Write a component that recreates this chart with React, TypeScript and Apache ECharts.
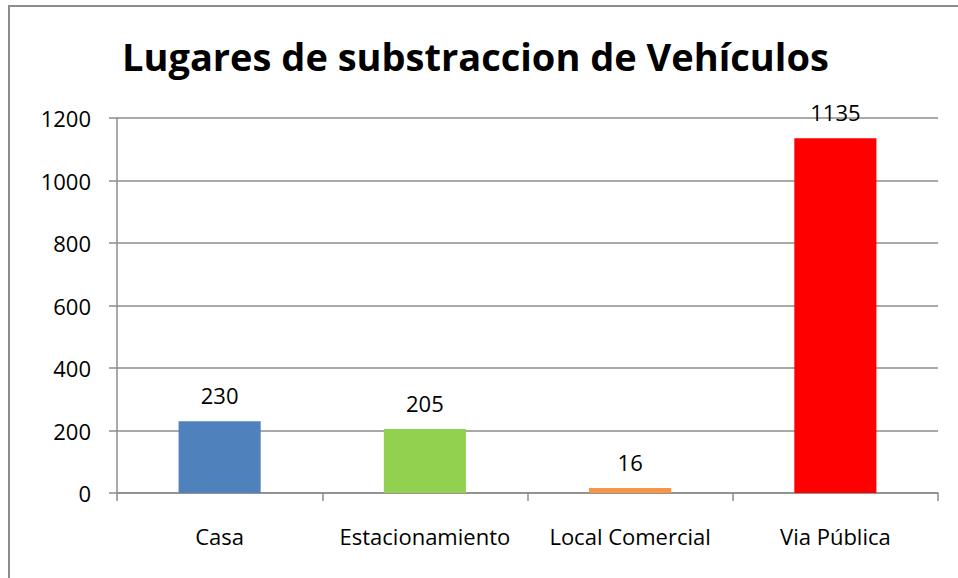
import React, { useEffect, useRef } from "react";
import * as echarts from "echarts";

const categories = ["Casa", "Estacionamiento", "Local Comercial", "Via Pública"];
const values = [230, 205, 16, 1135];
const barColors = ["#4F81BD", "#92D050", "#F79646", "#FF0000"];
const titleText = "Lugares de substraccion de Vehículos";

export default function App() {
  const ref = useRef<HTMLDivElement>(null);
  useEffect(() => {
    if (!ref.current) return;
    const chart = echarts.init(ref.current, null, { renderer: "svg" });
    const font = "'Open Sans', 'Noto Sans', sans-serif";
    chart.setOption({
      animation: false,
      backgroundColor: "#ffffff",
      textStyle: { fontFamily: font },
      title: {
        text: titleText,
        left: 117,
        top: 32,
        textStyle: { fontSize: 38, fontWeight: "bold", color: "#000", fontFamily: font },
      },
      graphic: [
        {
          type: "rect",
          shape: { x: 9, y: 6, width: 1000, height: 700 },
          style: { fill: "none", stroke: "#8c8c8c", lineWidth: 2 },
          silent: true,
        },
      ],
      grid: { left: 117, right: 20, top: 118, bottom: 85, containLabel: false },
      xAxis: {
        type: "category",
        data: categories,
        axisLine: { lineStyle: { color: "#8c8c8c", width: 1.5 } },
        axisTick: { show: true, length: 8, alignWithLabel: false, lineStyle: { color: "#8c8c8c", width: 1.5 } },
        axisLabel: { color: "#000", fontSize: 22, margin: 32, interval: 0, hideOverlap: false, fontFamily: font },
      },
      yAxis: {
        type: "value",
        min: 0,
        max: 1200,
        interval: 200,
        axisLine: { show: true, lineStyle: { color: "#8c8c8c", width: 1.5 } },
        axisTick: { show: true, length: 8, lineStyle: { color: "#8c8c8c", width: 1.5 } },
        axisLabel: {
          color: "#000",
          fontSize: 22,
          margin: 26,
          fontFamily: font,
          formatter: (v: number) => String(v),
        },
        splitLine: { lineStyle: { color: "#8c8c8c", width: 1.5 } },
      },
      series: [
        {
          type: "bar",
          barWidth: "40%",
          data: values.map((v, i) => ({ value: v, itemStyle: { color: barColors[i] } })),
          label: {
            show: true,
            position: "top",
            distance: 15,
            color: "#000",
            fontSize: 22,
            fontFamily: font,
          },
        },
      ],
    });
    return () => chart.dispose();
  }, []);
  return (
    <div
      ref={ref}
      style={{ position: "absolute", left: 0, top: 0, width: 958, height: 578 }}
    />
  );
}
